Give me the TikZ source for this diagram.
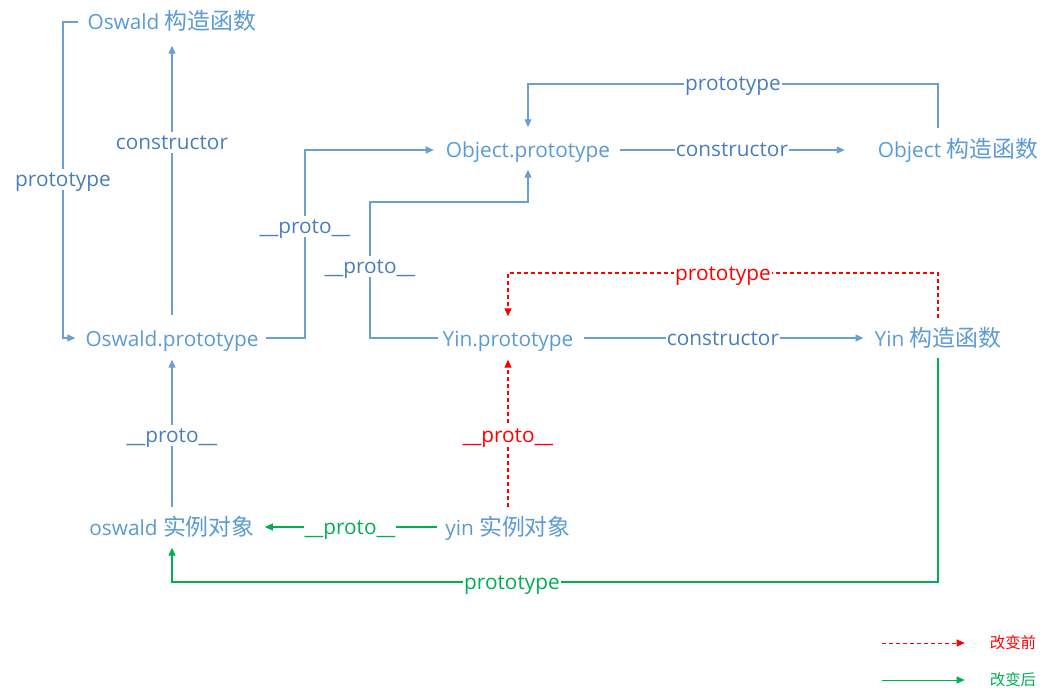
\documentclass[tikz,border=0pt]{standalone}
\usepackage{fontspec}
\setmainfont{Open Sans}
\newfontfamily\cjk[Scale=1.1]{Noto Sans CJK SC}
\usetikzlibrary{arrows.meta}
\definecolor{nb}{HTML}{5B9BD5}
\definecolor{lb}{HTML}{4A7EBB}
\definecolor{ln}{HTML}{6A9FD6}
\definecolor{rd}{HTML}{FF0000}
\definecolor{gr}{HTML}{00B050}
\begin{document}
\begin{tikzpicture}[x=1pt,y=-1pt,
  nd/.style={text=nb, font=\fontsize{20.8}{24}\selectfont, inner sep=2pt, text height=17.5pt, text depth=1.5pt},
  lbl/.style={fill=white, font=\fontsize{20.8}{24}\selectfont, inner sep=1pt, text=lb, text height=16.5pt, text depth=2.5pt},
  tip/.style={-{Triangle[length=8pt,width=7pt]}},
  bl/.style={draw=ln, line width=1.1pt, tip},
  rl/.style={draw=rd, line width=1.1pt, dash pattern=on 4pt off 3pt, tip},
  gl/.style={draw=gr, line width=1.1pt, tip},
  lg/.style={font=\cjk\fontsize{14}{16}\selectfont, inner sep=1pt}
]
\useasboundingbox (0,0) rectangle (1053,695);
\fill[white] (0,0) rectangle (1053,695);

% main nodes
\node[nd] (OC)   at (172,22)  {Oswald {\cjk 构造函数}};
\node[nd] (Opr)  at (172,338) {Oswald.prototype};
\node[nd] (Objp) at (528,150) {Object.prototype};
\node[nd] (ObjC) at (958,150) {Object {\cjk 构造函数}};
\node[nd] (Yinp) at (508,338) {Yin.prototype};
\node[nd] (YinC) at (938,338) {Yin {\cjk 构造函数}};
\node[nd] (oi)   at (172,527) {oswald {\cjk 实例对象}};
\node[nd] (yi)   at (508,527) {yin {\cjk 实例对象}};

% bend / label coordinates
\coordinate (k1) at (63,180);
\coordinate (k2) at (305,227);
\coordinate (k3) at (370,202);
\coordinate (k5) at (733,84);
\coordinate (k6) at (723,273);
\coordinate (k7) at (512,582);

% connectors
\draw[bl, shorten <=7pt, shorten >=8pt] (OC.west) -| (k1) |- (Opr.west);
\draw[bl, shorten <=11pt, shorten >=12pt] (Opr.north) -- (Opr.north |- OC.south);
\draw[bl, shorten <=5pt, shorten >=10pt] (Opr.east) -| (k2) |- (Objp.west);
\draw[bl, shorten <=2pt, shorten >=8pt] (Yinp.west) -| (k3) -| (Objp.south);
\draw[bl, shorten <=10pt, shorten >=11pt] ([xshift=-20pt]ObjC.north) |- (k5) -| (Objp.north);
\draw[bl, shorten <=8pt, shorten >=31pt] (Objp.east) -- (ObjC.west);
\draw[bl, shorten <=8pt, shorten >=9pt] (Yinp.east) -- (YinC.west);
\draw[bl, shorten <=8pt, shorten >=10pt] (oi.north) -- (Opr.south);
\draw[rl, shorten <=8pt, shorten >=10pt] (YinC.north) |- (k6) -| (Yinp.north);
\draw[rl, shorten <=8pt, shorten >=10pt] (yi.north) -- (Yinp.south);
\draw[gl, shorten <=6pt, shorten >=8pt] (yi.west) -- (oi.east);
\draw[gl, shorten <=8pt, shorten >=9pt] (YinC.south) |- (k7) -| (oi.south);

% labels on connectors
\node[lbl] (l1) at (k1) {prototype};
\node[lbl] (l2) at (172,143) {constructor};
\node[lbl] (l3) at (k2) {\_\_proto\_\_};
\node[lbl] (l4) at (370,267) {\_\_proto\_\_};
\node[lbl] (l5) at (k5) {prototype};
\node[lbl] (l6) at (732,150) {constructor};
\node[lbl, text=rd] (l7) at (k6) {prototype};
\node[lbl] (l8) at (723,338) {constructor};
\node[lbl] (l9) at (172,435) {\_\_proto\_\_};
\node[lbl, text=rd] (l10) at (508,435) {\_\_proto\_\_};
\node[lbl, text=gr] (l11) at (350,527) {\_\_proto\_\_};
\node[lbl, text=gr] (l12) at (k7) {prototype};

% legend
\node[lg, text=rd] (lgA) at (1013,643) {改变前};
\node[lg, text=gr] (lgB) at (1013,680) {改变后};
\coordinate (g1) at (882,643);
\coordinate (g2) at (882,680);
\draw[rl, line width=1pt, shorten >=24pt] (g1) -- (lgA.west);
\draw[gl, line width=1pt, shorten >=24pt] (g2) -- (lgB.west);
\end{tikzpicture}
\end{document}
